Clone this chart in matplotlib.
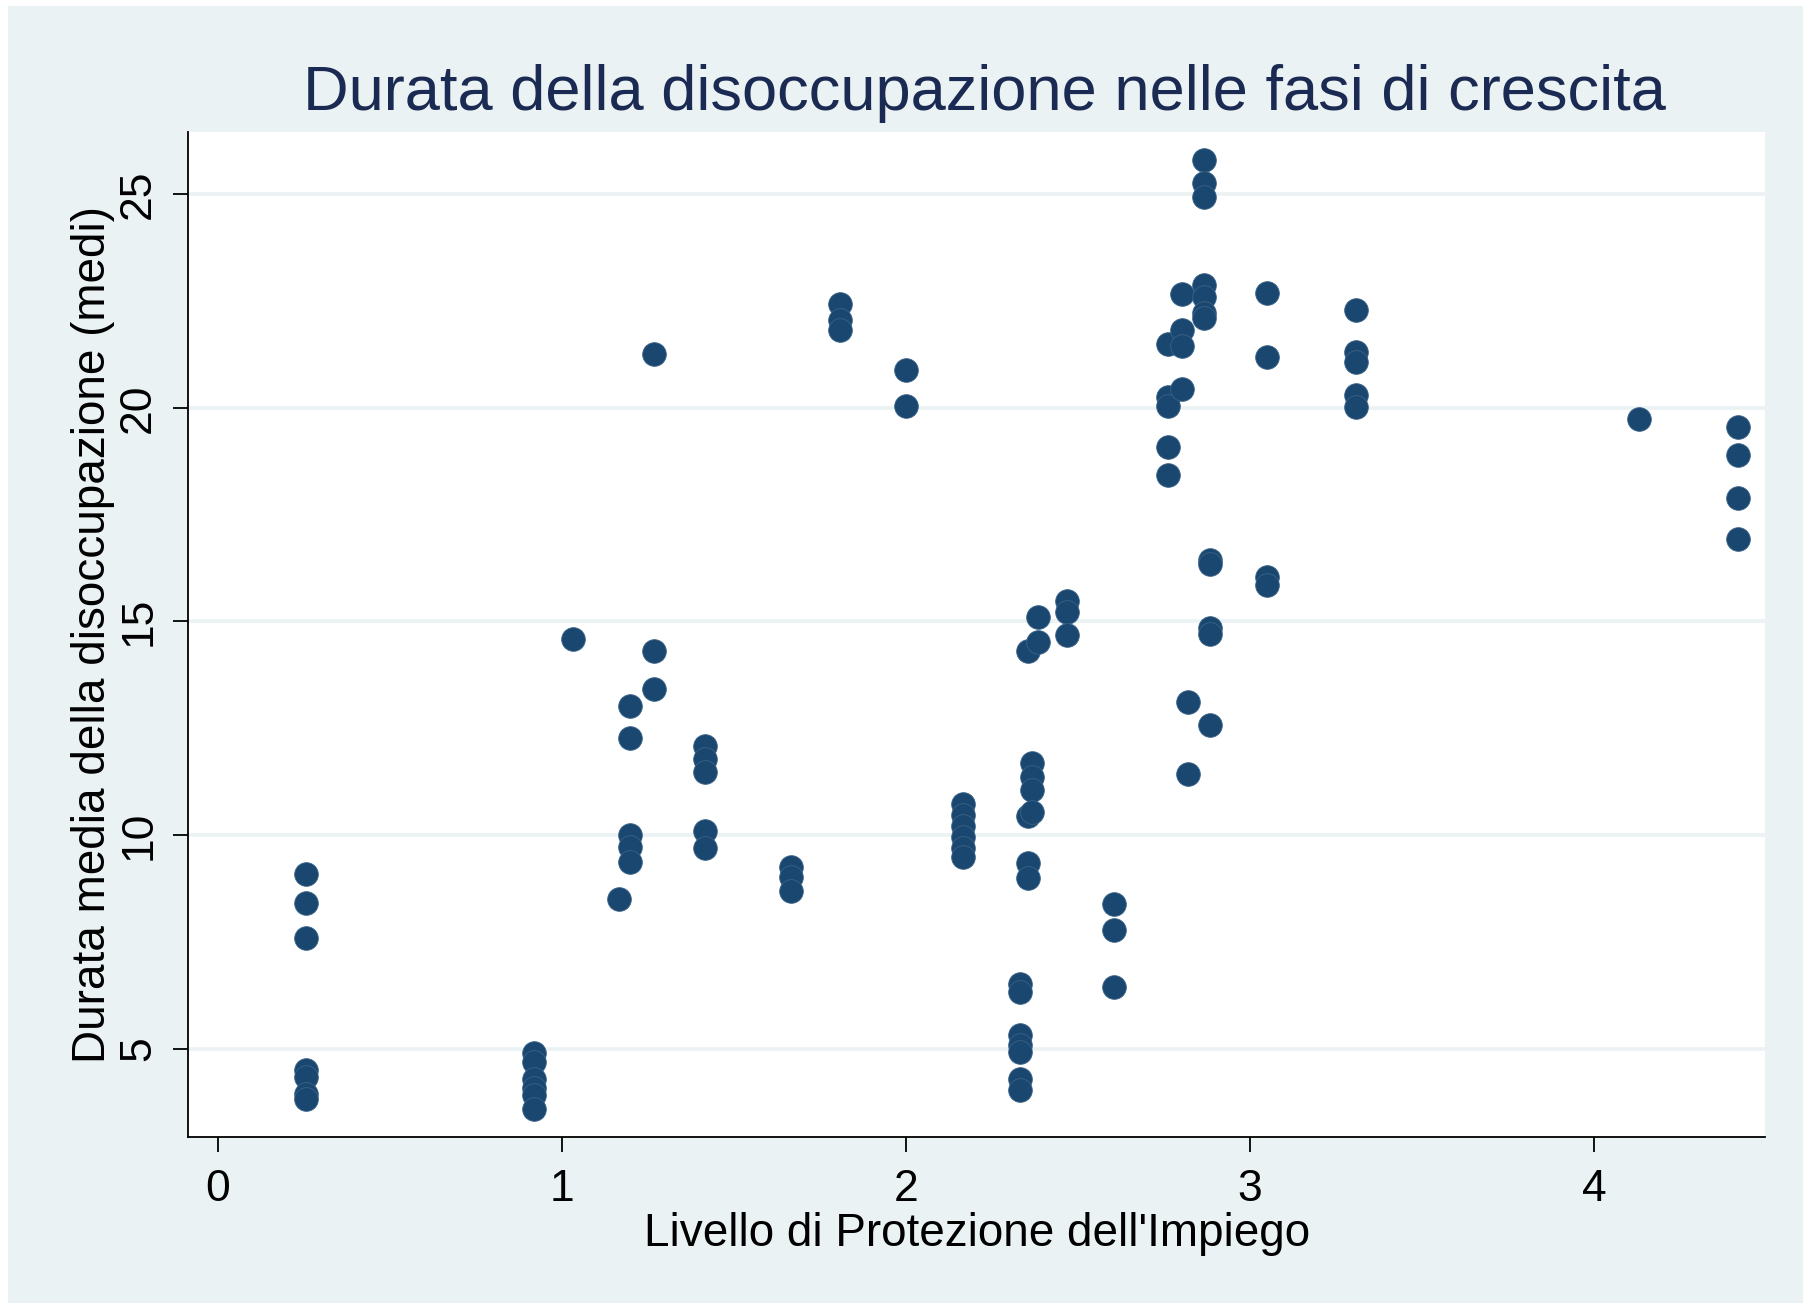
import matplotlib.pyplot as plt
from matplotlib.patches import Rectangle

# livello di protezione dell'impiego (x) e durata media (y)
protezione = [0.256, 0.256, 0.256, 0.256, 0.256, 0.256, 0.256,
              0.919, 0.919, 0.919, 0.919, 0.919, 0.919,
              1.032, 1.167,
              1.199, 1.199, 1.199, 1.199, 1.199,
              1.268, 1.268, 1.268,
              1.415, 1.415, 1.415, 1.415, 1.415,
              1.666, 1.666, 1.666,
              1.809, 1.809, 1.809,
              2.0, 2.0,
              2.167, 2.167, 2.167, 2.167, 2.167, 2.167,
              2.333, 2.333, 2.333, 2.333, 2.333, 2.333, 2.333,
              2.356, 2.356, 2.356, 2.356,
              2.368, 2.368, 2.368, 2.368,
              2.383, 2.383,
              2.470, 2.470, 2.470,
              2.605, 2.605, 2.605,
              2.762, 2.762, 2.762, 2.762, 2.762,
              2.802, 2.802, 2.802, 2.802,
              2.821, 2.821,
              2.868, 2.868, 2.868, 2.868, 2.868, 2.868, 2.868,
              2.884, 2.884, 2.884, 2.884, 2.884,
              3.051, 3.051, 3.051, 3.051,
              3.308, 3.308, 3.308, 3.308, 3.308,
              4.131,
              4.419, 4.419, 4.419, 4.419]
durata = [9.09, 8.40, 7.60, 4.50, 4.35, 3.95, 3.82,
          4.91, 4.70, 4.30, 4.08, 3.92, 3.58,
          14.59, 8.50,
          13.03, 12.28, 10.00, 9.73, 9.36,
          21.25, 14.31, 13.41,
          12.09, 11.78, 11.47, 10.10, 9.71,
          9.26, 9.02, 8.70,
          22.44, 22.05, 21.82,
          20.88, 20.04,
          10.72, 10.48, 10.22, 9.95, 9.70, 9.48,
          6.52, 6.32, 5.32, 5.10, 4.93, 4.30, 4.04,
          14.31, 10.45, 9.35, 9.00,
          11.68, 11.37, 11.05, 10.55,
          15.10, 14.52,
          15.47, 15.21, 14.68,
          8.38, 7.78, 6.44,
          21.49, 20.26, 20.04, 19.09, 18.42,
          22.67, 21.82, 21.44, 20.45,
          13.12, 11.44,
          25.79, 25.25, 24.94, 22.87, 22.60, 22.21, 22.09,
          16.45, 16.35, 14.84, 14.70, 12.57,
          22.69, 21.19, 16.05, 15.85,
          22.28, 21.31, 21.08, 20.30, 20.01,
          19.73,
          19.56, 18.89, 17.90, 16.94]

xticks = [0, 1, 2, 3, 4]
yticks = [5, 10, 15, 20, 25]

plt.rcParams['font.family'] = ['Liberation Sans', 'DejaVu Sans']

bg = '#eaf2f3'
navy = '#1a476f'

fig = plt.figure(figsize=(18.11, 13.11), dpi=100, facecolor='white')
fig.patches.append(Rectangle((8/1811, 8/1311), 1 - 16/1811, 1 - 14/1311,
                             transform=fig.transFigure, facecolor=bg,
                             edgecolor='none', zorder=-10))

ax = fig.add_axes([0.104, 0.133, 0.8705, 0.7665])
ax.set_facecolor('white')

ax.scatter(protezione, durata, s=290, color=navy, edgecolors='#3a6288',
           linewidths=0.6, zorder=3)

ax.set_xlim(-0.0855, 4.497)
ax.set_ylim(2.944, 26.46)
ax.set_xticks(xticks)
ax.set_yticks(yticks)
ax.grid(axis='y', color=bg, linewidth=2.6)
ax.set_axisbelow(True)

for s in ['top', 'right']:
    ax.spines[s].set_visible(False)
for s in ['left', 'bottom']:
    ax.spines[s].set_linewidth(1.3)
    ax.spines[s].set_color('black')

ax.tick_params(axis='both', length=11, width=1.3, labelsize=32)
ax.tick_params(axis='x', pad=12)
ax.tick_params(axis='y', pad=10)
for lab in ax.get_yticklabels():
    lab.set_rotation(90)
    lab.set_va('center')

ax.set_xlabel("Livello di Protezione dell'Impiego", fontsize=33, labelpad=2)
ax.set_ylabel("Durata media della disoccupazione (medi)", fontsize=33, labelpad=2)

fig.text(0.5436, 0.929, "Durata della disoccupazione nelle fasi di crescita",
         ha='center', va='center', fontsize=45.5, color='#1b2a52')

fig.savefig('out.png', dpi=100, facecolor=fig.get_facecolor())
